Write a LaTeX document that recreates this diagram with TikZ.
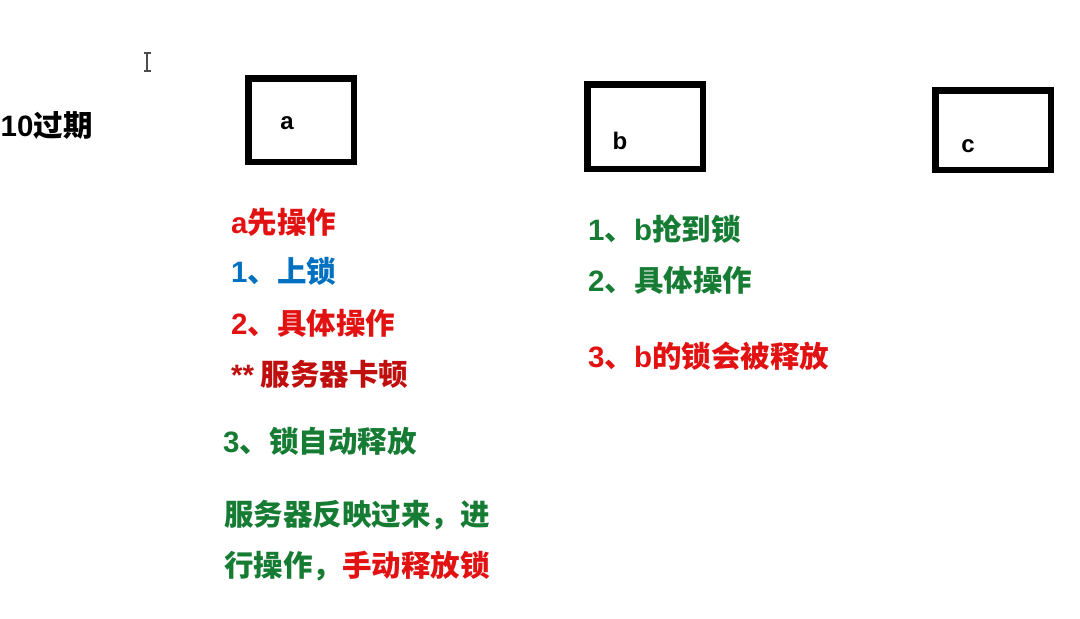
\documentclass[tikz,border=0pt]{standalone}
\usepackage{fontspec}
\setmainfont{Liberation Sans}
\newfontfamily\cjk{Noto Sans CJK SC}
\newfontfamily\lat{Liberation Sans}
\definecolor{myred}{RGB}{226,18,18}
\definecolor{mygreen}{RGB}{22,124,52}
\definecolor{myblue}{RGB}{0,112,192}
\begin{document}
\begin{tikzpicture}[x=1pt,y=-1pt,
  frame/.style={draw=black,line width=6.5pt,inner sep=0pt},
  letter/.style={font=\fontsize{24}{26}\selectfont\bfseries\lat,inner sep=0pt},
  txt/.style={anchor=west,inner sep=0pt,font=\fontsize{29.5}{33}\selectfont\bfseries\cjk}]
\useasboundingbox (0,0) rectangle (1080,619);
\fill[white] (0,0) rectangle (1080,619);
% cursor
\draw[gray!60!black,line width=1.6pt] (147,53) -- (147,71)
  (143.5,53) -- (150.5,53) (143.5,71) -- (150.5,71);
\node[txt,text=black] (title) at (0.5,125) {{\lat 10}过期};
% boxes
\node[frame,minimum width=105.5pt,minimum height=83.5pt] (boxa) at (301,120) {};
\node[frame,minimum width=115.5pt,minimum height=84.5pt] (boxb) at (645,126.5) {};
\node[frame,minimum width=115.5pt,minimum height=79.5pt] (boxc) at (993,130) {};
\node[letter] (la) at (287,123) {a};
\node[letter] (lb) at (620,141) {b};
\node[letter] (lc) at (968,146) {c};
% a column
\node[txt,text=myred] (a0) at (231,222) {{\lat a}先操作};
\node[txt,text=myblue] (a1) at (231,271) {{\lat 1}、上锁};
\node[txt,text=myred] (a2) at (231,323) {{\lat 2}、具体操作};
\node[txt,text=myred!85!black] (a3) at (231,374) {{\lat **} 服务器卡顿};
\node[txt,text=mygreen] (a4) at (223,441) {{\lat 3}、锁自动释放};
\node[txt,text=mygreen] (a5) at (224,515) {服务器反映过来，进};
\node[txt,text=mygreen] (a6) at (224,566) {行操作，\textcolor{myred}{手动释放锁}};
% b column
\node[txt,text=mygreen] (b1) at (588,229) {{\lat 1}、{\lat b}抢到锁};
\node[txt,text=mygreen] (b2) at (588,280) {{\lat 2}、具体操作};
\node[txt,text=myred] (b3) at (588,356) {{\lat 3}、{\lat b}的锁会被释放};
\end{tikzpicture}
\end{document}
